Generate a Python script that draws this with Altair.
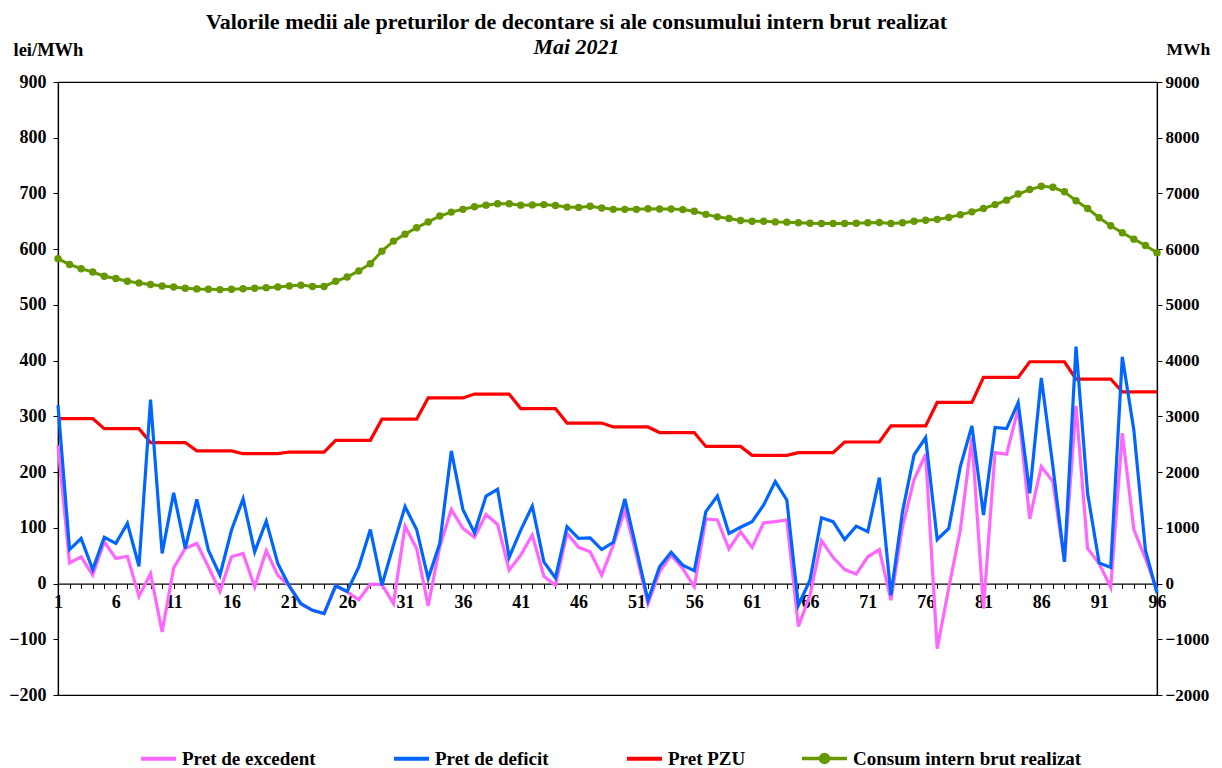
import altair as alt
import pandas as pd

idx = list(range(1, 97))

pret_excedent = [248, 37, 48, 15, 75, 45, 49, -23, 18, -87,
                 28, 63, 72, 30, -14, 48, 54, -6, 59, 15,
                 -4, -37, -48, -54, -4, -15, -29, -1, -2, -36,
                 103, 63, -40, 66, 133, 99, 83, 124, 106, 24,
                 51, 87, 13, -3, 90, 65, 57, 15, 69, 132,
                 51, -36, 21, 51, 27, -6, 116, 114, 62, 93,
                 65, 109, 111, 114, -77, -21, 77, 47, 25, 17,
                 48, 61, -30, 102, 186, 232, -117, -8, 96, 262,
                 -45, 235, 232, 314, 116, 210, 183, 39, 319, 63,
                 36, -7, 270, 97, 45, -12]

pret_deficit = [320, 61, 81, 25, 83, 72, 108, 31, 330, 54,
                163, 63, 151, 60, 15, 96, 152, 57, 112, 36,
                -5, -36, -48, -54, -4, -14, 30, 97, -3, 69,
                138, 97, 9, 72, 238, 133, 91, 157, 169, 47,
                96, 139, 39, 10, 102, 81, 82, 61, 74, 152,
                62, -30, 30, 56, 33, 23, 129, 157, 90, 101,
                111, 141, 183, 150, -39, 6, 118, 111, 79, 103,
                93, 190, -21, 129, 231, 262, 79, 99, 210, 283,
                123, 280, 278, 325, 162, 369, 210, 39, 425, 162,
                37, 29, 407, 275, 60, -17]

pret_pzu = [296, 296, 296, 296, 278, 278, 278, 278, 253, 253,
            253, 253, 238, 238, 238, 238, 233, 233, 233, 233,
            236, 236, 236, 236, 257, 257, 257, 257, 295, 295,
            295, 295, 333, 333, 333, 333, 340, 340, 340, 340,
            314, 314, 314, 314, 288, 288, 288, 288, 281, 281,
            281, 281, 271, 271, 271, 271, 246, 246, 246, 246,
            230, 230, 230, 230, 235, 235, 235, 235, 254, 254,
            254, 254, 283, 283, 283, 283, 325, 325, 325, 325,
            370, 370, 370, 370, 398, 398, 398, 398, 367, 367,
            367, 367, 344, 344, 344, 344]

consum = [5830, 5725, 5650, 5590, 5515, 5475, 5425, 5395, 5365, 5340,
          5320, 5300, 5287, 5280, 5275, 5280, 5290, 5300, 5310, 5320,
          5340, 5355, 5330, 5330, 5425, 5500, 5610, 5740, 5965, 6145,
          6270, 6385, 6490, 6595, 6665, 6715, 6760, 6790, 6815, 6815,
          6790, 6795, 6800, 6785, 6755, 6750, 6770, 6740, 6715, 6715,
          6715, 6725, 6720, 6720, 6710, 6680, 6625, 6580, 6550, 6515,
          6500, 6500, 6490, 6485, 6475, 6465, 6460, 6460, 6460, 6465,
          6475, 6480, 6460, 6475, 6500, 6520, 6535, 6570, 6620, 6670,
          6730, 6800, 6880, 6990, 7070, 7130, 7110, 7030, 6870, 6730,
          6565, 6420, 6295, 6180, 6065, 5935]

series_names = ["Pret de excedent", "Pret de deficit", "Pret PZU"]
series_colors = ["#FF66FF", "#0066FF", "#FF0000"]
consum_name = "Consum intern brut realizat"
green = "#669900"

left_ticks = list(range(-200, 1000, 100))
right_ticks = list(range(-2000, 10000, 1000))

prices = pd.DataFrame({
    "Interval": idx * 3,
    "Valoare": pret_excedent + pret_deficit + pret_pzu,
    "Serie": [n for n in series_names for _ in idx],
})
cons = pd.DataFrame({"Interval": idx, "Consum": consum, "Serie": [consum_name] * len(idx)})

FONT = "Liberation Serif"
W, H = 1099, 613
zero_off = -H * 200 / 1100

x_enc = alt.X(
    "Interval:Q",
    scale=alt.Scale(domain=[1, 96], nice=False, zero=False),
    axis=alt.Axis(
        values=idx,
        labelExpr="(datum.value - 1) % 5 == 0 ? datum.label : ''",
        offset=zero_off,
        tickSize=5,
        grid=False,
        title=None,
        labelOverlap=False,
        labelFlush=False,
        labelPadding=5,
    ),
)

y_left = alt.Y(
    "Valoare:Q",
    scale=alt.Scale(domain=[-200, 900], nice=False),
    axis=alt.Axis(
        orient="left",
        values=left_ticks,
        grid=False,
        tickSize=5,
        labelPadding=7,
        title="lei/MWh",
        titleAngle=0,
        titleX=-45,
        titleY=-33,
        titleAlign="left",
        titleBaseline="middle",
    ),
)

price_color = alt.Color(
    "Serie:N",
    scale=alt.Scale(domain=series_names, range=series_colors),
    legend=alt.Legend(
        orient="none",
        legendX=81,
        legendY=657,
        direction="horizontal",
        title=None,
        symbolType="stroke",
        symbolSize=1225,
        symbolStrokeWidth=4,
        columnPadding=70,
        labelLimit=400,
        padding=0,
    ),
)


def price_layer(name):
    return (
        alt.Chart(prices)
        .transform_filter(alt.datum.Serie == name)
        .mark_line(strokeWidth=3.2)
        .encode(x=x_enc, y=y_left, color=price_color, detail="Serie:N")
    )


prices_chart = alt.layer(
    price_layer("Pret PZU"),
    price_layer("Pret de excedent"),
    price_layer("Pret de deficit"),
)

consum_chart = (
    alt.Chart(cons)
    .mark_line(strokeWidth=3, point=alt.OverlayMarkDef(size=55, filled=True, opacity=1))
    .encode(
        x=x_enc,
        y=alt.Y(
            "Consum:Q",
            scale=alt.Scale(domain=[-2000, 9000], nice=False),
            axis=alt.Axis(
                orient="right",
                values=right_ticks,
                format="d",
                grid=False,
                tickSize=5,
                labelPadding=3,
                labelFontSize=17,
                title="MWh",
                titleFontSize=17.5,
                titleAngle=0,
                titleX=9,
                titleY=-33,
                titleAlign="left",
                titleBaseline="middle",
            ),
        ),
        color=alt.Color(
            "Serie:N",
            scale=alt.Scale(domain=[consum_name], range=[green]),
            legend=alt.Legend(
                orient="none",
                legendX=742,
                legendY=652,
                title=None,
                symbolType="M-1,0L1,0M-0.18,0A0.18,0.18,0,1,0,0.18,0A0.18,0.18,0,1,0,-0.18,0Z",
                symbolSize=2025,
                symbolStrokeWidth=3.5,
                symbolFillColor=green,
                symbolStrokeColor=green,
                labelLimit=400,
                padding=0,
            ),
        ),
    )
)

chart = (
    alt.layer(prices_chart, consum_chart)
    .resolve_scale(y="independent", color="independent")
    .properties(
        width=W,
        height=H,
        autosize=alt.AutoSizeParams(type="none"),
        padding={"left": 50, "top": 74, "right": 57, "bottom": 76},
        title=alt.TitleParams(
            text="Valorile medii ale preturilor de decontare si ale consumului intern brut realizat",
            subtitle="Mai 2021",
            font=FONT,
            fontSize=22,
            fontWeight="bold",
            color="black",
            subtitleFont=FONT,
            subtitleFontSize=22,
            subtitleFontWeight="bold",
            subtitleFontStyle="italic",
            subtitleColor="black",
            subtitlePadding=3,
            anchor="middle",
            dx=-31,
            offset=-19,
        ),
    )
    .configure_view(stroke="black", strokeWidth=1.2)
    .configure_axis(
        labelFont=FONT,
        labelFontSize=18,
        labelFontWeight="bold",
        labelColor="black",
        titleFont=FONT,
        titleFontSize=18.5,
        titleFontWeight="bold",
        titleColor="black",
        domainColor="black",
        tickColor="black",
        domainWidth=1.2,
    )
    .configure_legend(
        labelFont=FONT,
        labelFontSize=19,
        labelFontWeight="bold",
        labelColor="black",
        labelOffset=4,
    )
)

chart.save("out.html", embed_options={"renderer": "svg", "actions": False})
